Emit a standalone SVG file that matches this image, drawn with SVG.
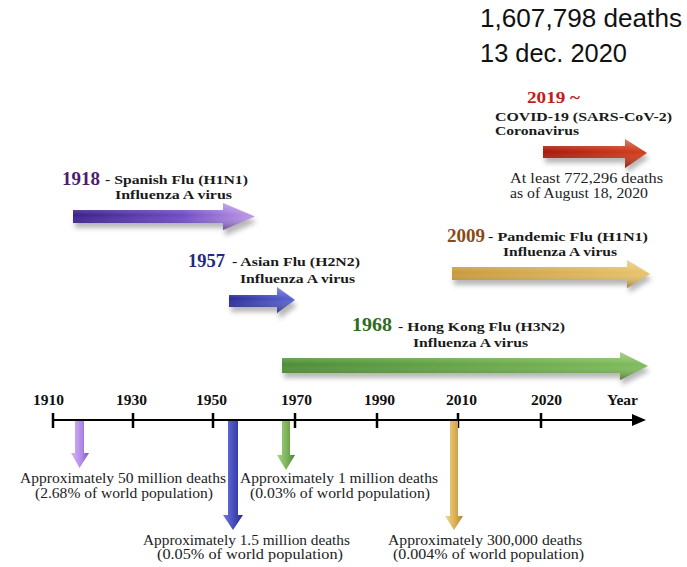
<svg xmlns="http://www.w3.org/2000/svg" width="687" height="567" viewBox="0 0 687 567">
<style>
.top{font-family:"Liberation Sans",Arial,sans-serif;font-size:26px;fill:#111}
.yr{font-family:"Liberation Serif","Times New Roman",serif;font-weight:bold}
.lb{font-family:"Liberation Serif","Times New Roman",serif;font-weight:bold;font-size:13px;fill:#1a1a1a}
.ax{font-family:"Liberation Serif","Times New Roman",serif;font-weight:bold;font-size:14px;fill:#111}
.dt{font-family:"Liberation Serif","Times New Roman",serif;font-size:14px;fill:#222}
.shade{fill:url(#shade)}
</style>
<defs>
<filter id="sh" x="-10%" y="-50%" width="120%" height="250%">
<feGaussianBlur stdDeviation="2.5"/>
</filter>
<linearGradient id="shade" x1="0" y1="0" x2="0" y2="1">
<stop offset="0" stop-color="#fff" stop-opacity="0.35"/>
<stop offset="0.45" stop-color="#fff" stop-opacity="0"/>
<stop offset="1" stop-color="#000" stop-opacity="0.35"/>
</linearGradient>
<linearGradient id="gP" x1="0" y1="0" x2="1" y2="0">
<stop offset="0" stop-color="#3a208a"/><stop offset="0.6" stop-color="#6f4cc4"/><stop offset="1" stop-color="#c09ae8"/>
</linearGradient>
<linearGradient id="gB" x1="0" y1="0" x2="1" y2="0">
<stop offset="0" stop-color="#2a2c98"/><stop offset="1" stop-color="#5c64d4"/>
</linearGradient>
<linearGradient id="gG" x1="0" y1="0" x2="1" y2="0">
<stop offset="0" stop-color="#4e8e34"/><stop offset="1" stop-color="#80bc5c"/>
</linearGradient>
<linearGradient id="gY" x1="0" y1="0" x2="1" y2="0">
<stop offset="0" stop-color="#c99a3c"/><stop offset="1" stop-color="#e8c46c"/>
</linearGradient>
<linearGradient id="gR" x1="0" y1="0" x2="1" y2="0">
<stop offset="0" stop-color="#a81a0c"/><stop offset="1" stop-color="#d2401e"/>
</linearGradient>
<linearGradient id="vP" x1="0" y1="0" x2="1" y2="0">
<stop offset="0" stop-color="#d6b8f6"/><stop offset="0.6" stop-color="#b088e6"/><stop offset="1" stop-color="#7a50c0"/>
</linearGradient>
<linearGradient id="vB" x1="0" y1="0" x2="1" y2="0">
<stop offset="0" stop-color="#7078e0"/><stop offset="0.6" stop-color="#4048b8"/><stop offset="1" stop-color="#262a88"/>
</linearGradient>
<linearGradient id="vG" x1="0" y1="0" x2="1" y2="0">
<stop offset="0" stop-color="#a8d488"/><stop offset="0.6" stop-color="#78b054"/><stop offset="1" stop-color="#4a8030"/>
</linearGradient>
<linearGradient id="vY" x1="0" y1="0" x2="1" y2="0">
<stop offset="0" stop-color="#f2d894"/><stop offset="0.6" stop-color="#d8ac50"/><stop offset="1" stop-color="#b08030"/>
</linearGradient>
</defs>
<rect width="687" height="567" fill="#fff"/>

<g id="total">
<text class="top" x="480" y="27" textLength="202" lengthAdjust="spacingAndGlyphs">1,607,798 deaths</text>
<text class="top" x="480" y="62" textLength="147" lengthAdjust="spacingAndGlyphs">13 dec. 2020</text>
</g>

<g id="axis">
<line x1="53" y1="420" x2="637" y2="420" stroke="#000" stroke-width="2"/>
<path d="M632 414 L646 420 L632 426 Z" fill="#000"/>
<g stroke="#000" stroke-width="2.5">
<line x1="53" y1="413" x2="53" y2="428"/>
<line x1="133" y1="413" x2="133" y2="428"/>
<line x1="213" y1="413" x2="213" y2="428"/>
<line x1="295" y1="413" x2="295" y2="428"/>
<line x1="377" y1="413" x2="377" y2="428"/>
<line x1="458" y1="413" x2="458" y2="428"/>
<line x1="541" y1="413" x2="541" y2="428"/>
</g>
<text class="ax" x="33" y="405" textLength="31" lengthAdjust="spacingAndGlyphs">1910</text>
<text class="ax" x="116" y="405" textLength="31" lengthAdjust="spacingAndGlyphs">1930</text>
<text class="ax" x="196" y="405" textLength="31" lengthAdjust="spacingAndGlyphs">1950</text>
<text class="ax" x="281" y="405" textLength="31" lengthAdjust="spacingAndGlyphs">1970</text>
<text class="ax" x="364" y="405" textLength="31" lengthAdjust="spacingAndGlyphs">1990</text>
<text class="ax" x="446" y="405" textLength="31" lengthAdjust="spacingAndGlyphs">2010</text>
<text class="ax" x="531" y="405" textLength="31" lengthAdjust="spacingAndGlyphs">2020</text>
<text class="ax" x="607" y="405" textLength="31" lengthAdjust="spacingAndGlyphs">Year</text>
</g>

<g id="flu-1918">
<text class="yr" x="62" y="185" font-size="19" fill="#4e1a6e" textLength="38" lengthAdjust="spacingAndGlyphs">1918</text>
<text class="lb" x="105" y="184" textLength="143" lengthAdjust="spacingAndGlyphs">- Spanish Flu (H1N1)</text>
<text class="lb" x="115" y="199" textLength="117" lengthAdjust="spacingAndGlyphs">Influenza A virus</text>
<path d="M75 215 L225 215 L225 208 L257 222 L225 236 L225 228 L75 228 Z" fill="#888" opacity="0.6" filter="url(#sh)"/>
<path d="M73 210 L223 210 L223 203 L255 216.5 L223 230 L223 223 L73 223 Z" fill="url(#gP)"/>
<path class="shade" d="M73 210 L223 210 L223 203 L255 216.5 L223 230 L223 223 L73 223 Z"/>
<path d="M75 421 L84 421 L84 453 L89 453 L79.5 468 L71 453 L75 453 Z" fill="url(#vP)"/>
<text class="dt" x="20" y="483" textLength="206" lengthAdjust="spacingAndGlyphs">Approximately 50 million deaths</text>
<text class="dt" x="35" y="498" textLength="178" lengthAdjust="spacingAndGlyphs">(2.68% of world population)</text>
</g>

<g id="flu-1957">
<text class="yr" x="188" y="267" font-size="18" fill="#1f2a80" textLength="37" lengthAdjust="spacingAndGlyphs">1957</text>
<text class="lb" x="232" y="266" textLength="128" lengthAdjust="spacingAndGlyphs">- Asian Flu (H2N2)</text>
<text class="lb" x="240" y="283" textLength="115" lengthAdjust="spacingAndGlyphs">Influenza A virus</text>
<path d="M231 300 L279 300 L279 292 L297 306 L279 319 L279 312 L231 312 Z" fill="#888" opacity="0.6" filter="url(#sh)"/>
<path d="M229 295 L277 295 L277 287 L295 300 L277 313 L277 307 L229 307 Z" fill="url(#gB)"/>
<path class="shade" d="M229 295 L277 295 L277 287 L295 300 L277 313 L277 307 L229 307 Z"/>
<path d="M228 421 L238 421 L238 515 L243 515 L233 530 L223 515 L228 515 Z" fill="url(#vB)"/>
<text class="dt" x="143" y="545" textLength="207" lengthAdjust="spacingAndGlyphs">Approximately 1.5 million deaths</text>
<text class="dt" x="157" y="559" textLength="186" lengthAdjust="spacingAndGlyphs">(0.05% of world population)</text>
</g>

<g id="flu-1968">
<text class="yr" x="352" y="331" font-size="19" fill="#2f6a20" textLength="40" lengthAdjust="spacingAndGlyphs">1968</text>
<text class="lb" x="398" y="331" textLength="167" lengthAdjust="spacingAndGlyphs">- Hong Kong Flu (H3N2)</text>
<text class="lb" x="413" y="347" textLength="115" lengthAdjust="spacingAndGlyphs">Influenza A virus</text>
<path d="M284 363 L622 363 L622 357 L650 371 L622 385 L622 378 L284 378 Z" fill="#888" opacity="0.6" filter="url(#sh)"/>
<path d="M282 358 L620 358 L620 352 L648 366 L620 380 L620 373 L282 373 Z" fill="url(#gG)"/>
<path class="shade" d="M282 358 L620 358 L620 352 L648 366 L620 380 L620 373 L282 373 Z"/>
<path d="M282 421 L290 421 L290 455 L295 455 L286 470 L277 455 L282 455 Z" fill="url(#vG)"/>
<text class="dt" x="240" y="483" textLength="198" lengthAdjust="spacingAndGlyphs">Approximately 1 million deaths</text>
<text class="dt" x="250" y="498" textLength="180" lengthAdjust="spacingAndGlyphs">(0.03% of world population)</text>
</g>

<g id="flu-2009">
<text class="yr" x="447" y="242" font-size="18" fill="#8a4a14" textLength="38" lengthAdjust="spacingAndGlyphs">2009</text>
<text class="lb" x="488" y="241" textLength="160" lengthAdjust="spacingAndGlyphs">- Pandemic Flu (H1N1)</text>
<text class="lb" x="503" y="256" textLength="114" lengthAdjust="spacingAndGlyphs">Influenza A virus</text>
<path d="M454 272 L629 272 L629 265 L652 279 L629 293 L629 285 L454 285 Z" fill="#888" opacity="0.6" filter="url(#sh)"/>
<path d="M452 267 L627 267 L627 260 L650 274 L627 288 L627 280 L452 280 Z" fill="url(#gY)"/>
<path class="shade" d="M452 267 L627 267 L627 260 L650 274 L627 288 L627 280 L452 280 Z"/>
<path d="M450 421 L458 421 L458 516 L463 516 L454 530 L445 516 L450 516 Z" fill="url(#vY)"/>
<text class="dt" x="388" y="545" textLength="194" lengthAdjust="spacingAndGlyphs">Approximately 300,000 deaths</text>
<text class="dt" x="393" y="559" textLength="191" lengthAdjust="spacingAndGlyphs">(0.004% of world population)</text>
</g>

<g id="covid-2019">
<text class="yr" x="527" y="103" font-size="17" fill="#c0201a" textLength="53" lengthAdjust="spacingAndGlyphs">2019 ~</text>
<text class="lb" x="495" y="121" font-size="12" textLength="177" lengthAdjust="spacingAndGlyphs">COVID-19 (SARS-CoV-2)</text>
<text class="lb" x="495" y="135" font-size="12" textLength="84" lengthAdjust="spacingAndGlyphs">Coronavirus</text>
<path d="M545 151 L627 151 L627 144 L649 158 L627 173 L627 163 L545 163 Z" fill="#888" opacity="0.6" filter="url(#sh)"/>
<path d="M543 146 L625 146 L625 139 L647 153 L625 168 L625 158 L543 158 Z" fill="url(#gR)"/>
<path class="shade" d="M543 146 L625 146 L625 139 L647 153 L625 168 L625 158 L543 158 Z"/>
<text class="dt" x="510" y="183" textLength="153" lengthAdjust="spacingAndGlyphs">At least 772,296 deaths</text>
<text class="dt" x="510" y="198" textLength="138" lengthAdjust="spacingAndGlyphs">as of August 18, 2020</text>
</g>
</svg>
